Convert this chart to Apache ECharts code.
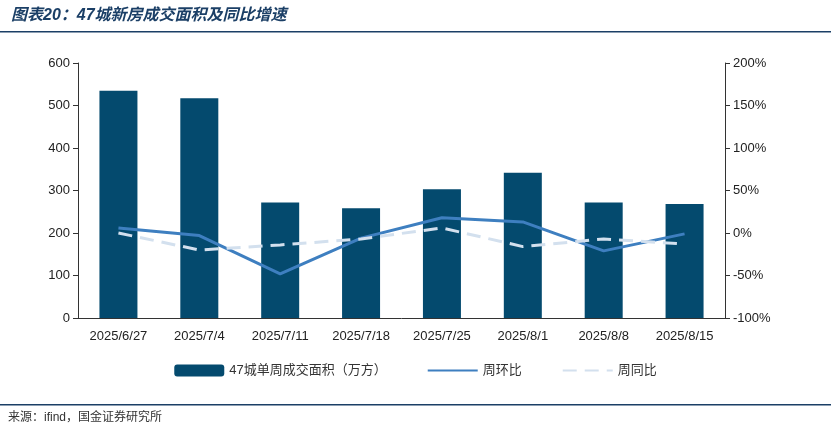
<!DOCTYPE html>
<html>
<head>
<meta charset="utf-8">
<script src="https://cdn.jsdelivr.net/npm/echarts@6/dist/echarts.min.js"></script>
<style>
  html, body { margin: 0; padding: 0; background: #fff; }
  #chart { width: 831px; height: 434px; }
</style>
</head>
<body>
<div id="chart"></div>
<script>
const dates = ['2025/6/27', '2025/7/4', '2025/7/11', '2025/7/18', '2025/7/25', '2025/8/1', '2025/8/8', '2025/8/15'];
const area = [535, 517, 272, 258, 303, 342, 272, 268];
const wow = [6, -3, -48, -6, 18, 13, -21, -1];
const yoy = [0, -20, -14, -7, 6, -16, -7, -13];

const font = '"Liberation Sans", "Noto Sans CJK SC", sans-serif';

let option = {
    textStyle: { fontFamily: font },
    title: {
        text: '图表20：47城新房成交面积及同比增速',
        left: 6,
        top: 3,
        textStyle: { fontSize: 16, fontWeight: 'bold', fontStyle: 'italic', color: '#1b3f66', fontFamily: font }
    },
    graphic: [
        { type: 'rect', shape: { x: 0, y: 31, width: 831, height: 1.5 }, style: { fill: '#1b3f66' } },
        { type: 'rect', shape: { x: 0, y: 404, width: 831, height: 1.5 }, style: { fill: '#1b3f66' } },
        { type: 'text', left: 8, top: 412, style: { text: '来源：ifind，国金证券研究所', font: '12px ' + font, fill: '#333' } }
    ],
    legend: {
        bottom: 52,
        left: 'center',
        itemGap: 40,
        itemWidth: 50,
        itemHeight: 12,
        textStyle: { fontSize: 13, color: '#333' },
        data: [
            '47城单周成交面积（万方）',
            { name: '周环比', itemStyle: { opacity: 0 } },
            { name: '周同比', itemStyle: { opacity: 0 } }
        ]
    },
    grid: { left: 78, right: 106, top: 63, bottom: 116 },
    xAxis: {
        type: 'category',
        data: dates,
        axisTick: { show: false },
        axisLine: { lineStyle: { color: '#333' } },
        axisLabel: { color: '#222', fontSize: 13, margin: 12 }
    },
    yAxis: [
        {
            type: 'value', min: 0, max: 600, interval: 100,
            splitLine: { show: false },
            axisLine: { show: true, lineStyle: { color: '#333' } },
            axisTick: { show: true, lineStyle: { color: '#333' } },
            axisLabel: { color: '#222', fontSize: 13 }
        },
        {
            type: 'value', min: -100, max: 200, interval: 50,
            splitLine: { show: false },
            axisLine: { show: true, lineStyle: { color: '#333' } },
            axisTick: { show: true, lineStyle: { color: '#333' } },
            axisLabel: { color: '#222', fontSize: 13, formatter: '{value}%' }
        }
    ],
    series: [
        {
            name: '47城单周成交面积（万方）',
            type: 'bar',
            data: area,
            barWidth: 38,
            itemStyle: { color: '#044a6e' }
        },
        {
            name: '周环比',
            type: 'line',
            yAxisIndex: 1,
            data: wow,
            symbol: 'none',
            lineStyle: { color: '#3e7fc0', width: 3 },
            itemStyle: { color: '#3e7fc0' }
        },
        {
            name: '周同比',
            type: 'line',
            yAxisIndex: 1,
            data: yoy,
            symbol: 'none',
            lineStyle: { color: '#d3e0ee', width: 3, type: [14, 8] },
            itemStyle: { color: '#d3e0ee' }
        }
    ]
};

let myChart = echarts.init(document.getElementById('chart'));
myChart.setOption(option);
</script>
</body>
</html>
